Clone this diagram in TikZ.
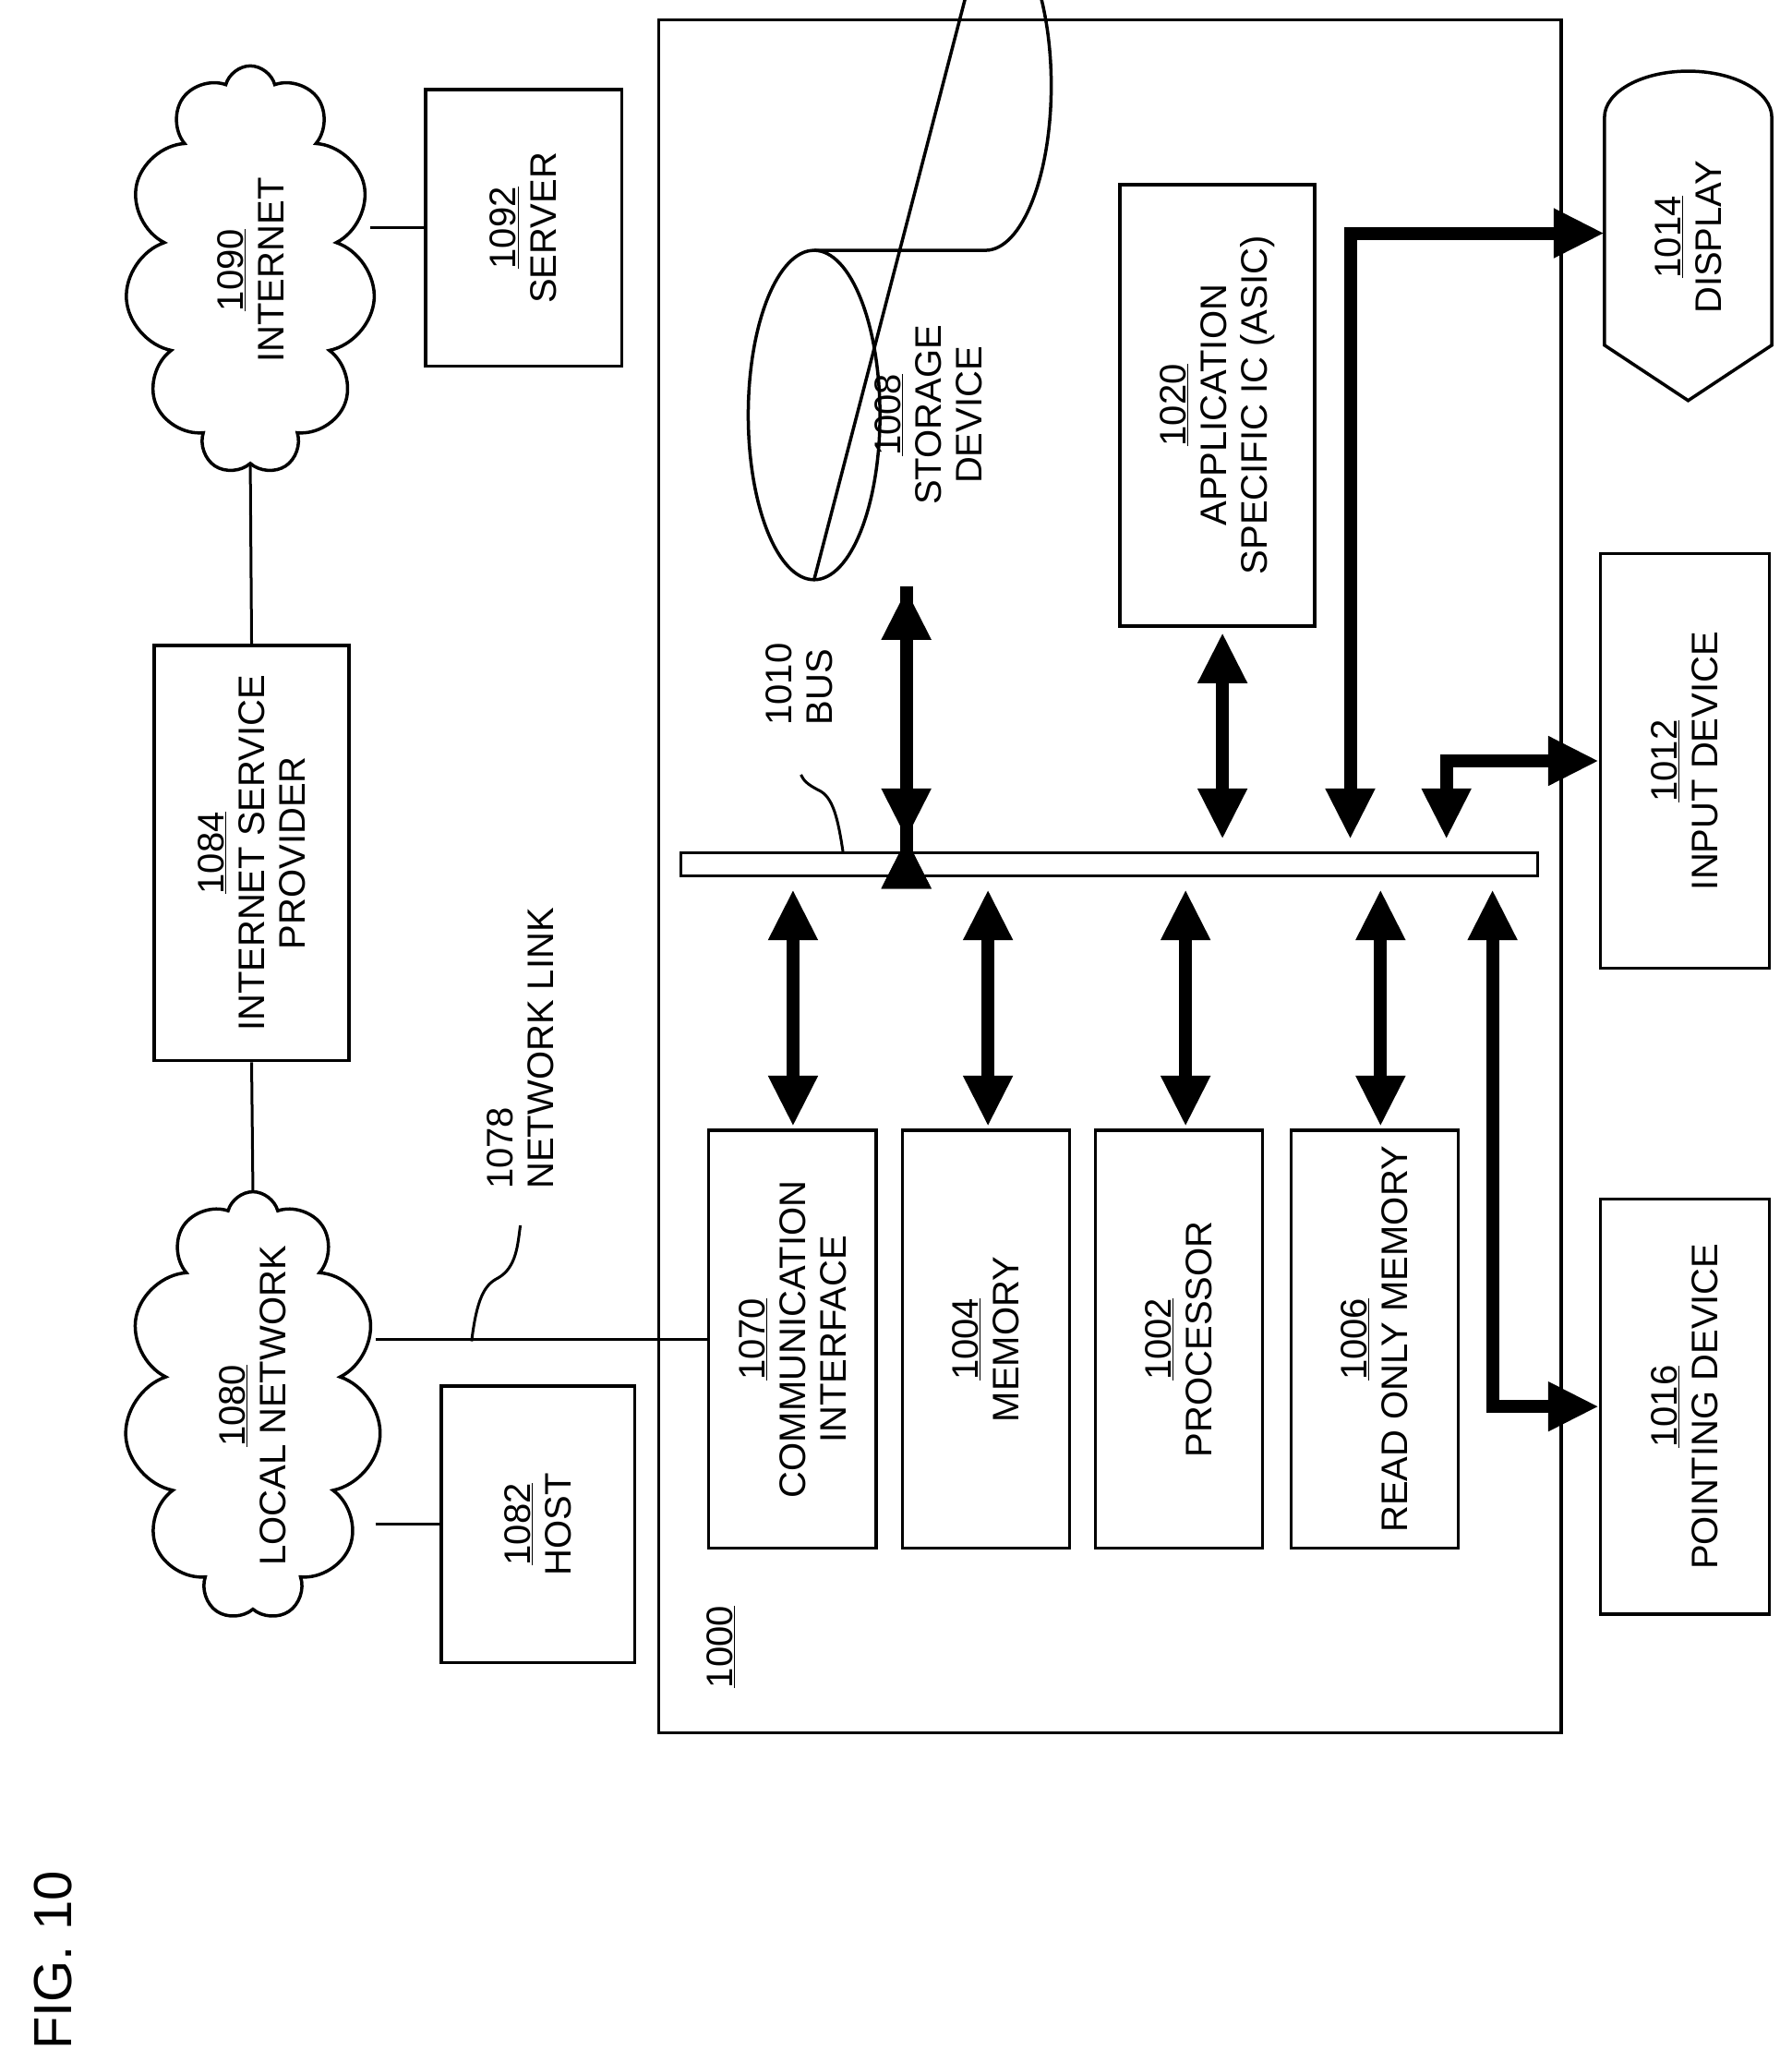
\documentclass[tikz,border=0pt]{standalone}
\usepackage{fontspec}
\setmainfont{Liberation Sans}
\usetikzlibrary{shapes.symbols,arrows.meta}
\begin{document}
\begin{tikzpicture}[x=1.4265pt,y=-1.4265pt,
  box/.style={draw,line width=3.5pt,minimum width=#1},
  lbl/.style={rotate=90,align=center,font=\fontsize{40}{44}\selectfont},
  thin/.style={line width=3pt},
  big/.style={line width=14pt,{Triangle[length=55pt,width=50pt]}-{Triangle[length=55pt,width=50pt]}},
  cl/.style={draw,line width=3.5pt,cloud,cloud puffs=11,cloud ignores aspect,inner sep=0pt}]
\useasboundingbox (0,0) rectangle (1360,1565);
\def\s{1.4265pt}
% main box
\node[box=685*\s,minimum height=1300*\s] (main) at (842.5,665) {};
\node[box=149*\s,minimum height=210*\s] (server) at (397.5,173) {};
\node[box=148*\s,minimum height=315*\s] (isp) at (191,647.5) {};
\node[box=147*\s,minimum height=210*\s] (host) at (408.5,1157) {};
\node[box=148*\s,minimum height=335*\s] (asic) at (924,307.5) {};
\node[box=127*\s,minimum height=317*\s] (comm) at (601.5,1016.5) {};
\node[box=127*\s,minimum height=317*\s] (mem) at (748.5,1016.5) {};
\node[box=127*\s,minimum height=317*\s] (proc) at (895,1016.5) {};
\node[box=127*\s,minimum height=317*\s] (rom) at (1043.5,1016.5) {};
\node[box=128*\s,minimum height=315*\s] (input) at (1279,577.5) {};
\node[box=128*\s,minimum height=315*\s] (point) at (1279,1067.5) {};
\node[box=650*\s,minimum height=18*\s,line width=3pt] (bus) at (842,656) {};
\node[cl,minimum width=190*\s,minimum height=310*\s] (inet) at (190,205) {};
\node[cl,minimum width=195*\s,minimum height=325*\s] (lan) at (192,1067) {};
% storage cylinder
\draw[line width=3.5pt] (618,190) -- (748,190) arc[start angle=-90,end angle=90,x radius=50,y radius=-125] -- (618,440);
\draw[line width=3.5pt] (618,315) ellipse[x radius=50,y radius=125];
\coordinate (stor) at (798,315);
% display shape
\draw[line width=3.5pt] (1218,262) -- (1218,89) arc[start angle=180,end angle=0,x radius=63.5,y radius=-35] -- (1345,262) -- (1281.5,304) -- cycle;
\coordinate (disp) at (1218,177);
% labels
\node[lbl] at (server) {\underline{1092}\\SERVER};
\node[lbl] at (isp) {\underline{1084}\\INTERNET SERVICE\\PROVIDER};
\node[lbl] at (host) {\underline{1082}\\HOST};
\node[lbl] at (asic) {\underline{1020}\\APPLICATION\\SPECIFIC IC (ASIC)};
\node[lbl] at (comm) {\underline{1070}\\COMMUNICATION\\INTERFACE};
\node[lbl] at (mem) {\underline{1004}\\MEMORY};
\node[lbl] at (proc) {\underline{1002}\\PROCESSOR};
\node[lbl] at (rom) {\underline{1006}\\READ ONLY MEMORY};
\node[lbl] at (input) {\underline{1012}\\INPUT DEVICE};
\node[lbl] at (point) {\underline{1016}\\POINTING DEVICE};
\node[lbl] at (inet) {\underline{1090}\\INTERNET};
\node[lbl] at (lan) {\underline{1080}\\LOCAL NETWORK};
\node[lbl] at (705,315) {\underline{1008}\\STORAGE\\DEVICE};
\node[lbl] at (1281.5,180) {\underline{1014}\\DISPLAY};
\node[lbl,align=left,anchor=west] (nl) at (395,905) {1078\\NETWORK LINK};
\node[lbl,align=left,anchor=west] (bl) at (607,553) {1010\\BUS};
\node[lbl] at (547,1250) {\underline{1000}};
\node[rotate=90,font=\fontsize{58}{60}\selectfont] at (40,1488) {FIG. 10};
% thin connectors
\draw[thin] (inet.east |- server.west) -- (server.west);
\draw[thin] (inet.south) -- (isp.north);
\draw[thin] (isp.south) -- (lan.north);
\draw[thin] (lan.east |- host.west) -- (host.west);
\draw[thin] (lan.east |- comm.west) -- (comm.west);
\draw[thin] (358,1018) .. controls (362,985) and (368,975) .. (378,970) .. controls (392,962) and (393,945) .. (395,930);
\draw[thin] (640,647) .. controls (636,620) and (632,605) .. (622,600) .. controls (612,595) and (610,592) .. (608,588);
% bus arrows
\draw[big] (688,0 |- stor.south) ++(0,445-315) -- ([xshift=0pt]688,0 |- bus.north) ++(0,-10);
\draw[big] (688,447) -- (688,637);
\draw[big] (928,480) -- (928,637);
\draw[big] (602,855) -- (602,675);
\draw[big] (750,855) -- (750,675);
\draw[big] (900,855) -- (900,675);
\draw[big] (1048,855) -- (1048,675);
\draw[big] (1025,637) |- (disp);
\draw[big] (1098,637) |- (input.west);
\draw[big] (1133,675) |- (point.west);
\end{tikzpicture}
\end{document}
